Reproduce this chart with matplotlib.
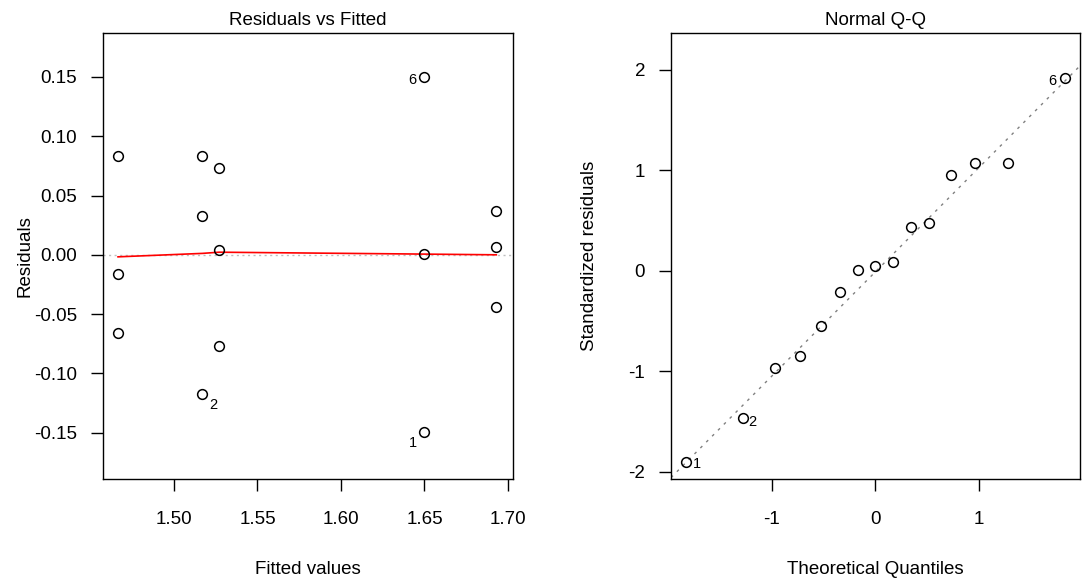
import numpy as np
import matplotlib
matplotlib.use('Agg')
import matplotlib.pyplot as plt

plt.rcParams['font.family'] = ['Liberation Sans', 'DejaVu Sans']
plt.rcParams['axes.unicode_minus'] = False

# residuals vs fitted
fitted = [1.4665, 1.4665, 1.4665,
          1.517, 1.517, 1.517,
          1.527, 1.527, 1.527,
          1.650, 1.650, 1.650,
          1.693, 1.693, 1.693]
resid = [0.083, -0.016, -0.066,
         0.083, 0.033, -0.117,
         0.073, 0.004, -0.077,
         0.150, 0.001, -0.149,
         0.037, 0.007, -0.044]
smooth_x = [1.4665, 1.517, 1.527, 1.650, 1.693]
smooth_y = [-0.0017, 0.0012, 0.0022, 0.0006, 0.0]

# normal q-q
theo_q = [-1.834, -1.282, -0.967, -0.728, -0.524, -0.341, -0.168, 0.0,
          0.168, 0.341, 0.524, 0.728, 0.967, 1.282, 1.834]
std_resid = [-1.90, -1.463, -0.968, -0.842, -0.543, -0.205, 0.014, 0.054,
             0.093, 0.435, 0.475, 0.959, 1.075, 1.075, 1.92]
qq_intercept = -0.01
qq_slope = 1.036

# labelled points: (index, dx, dy) offsets in pixels
rv_labels = {'6': (9, -12, -3), '2': (5, 11, -11), '1': (11, -12, -11)}
qq_labels = {'6': (14, -13, -3), '2': (1, 10, -4), '1': (0, 11, -2)}

fs = 13.5
px = 0.72  # pixel -> point at dpi 100

fig = plt.figure(figsize=(10.82, 5.85), dpi=100)
ax1 = fig.add_axes([103/1082, 1-479/585, 410/1082, 446/585])
ax2 = fig.add_axes([671/1082, 1-479/585, 409/1082, 446/585])

for ax in (ax1, ax2):
    for s in ax.spines.values():
        s.set_linewidth(1.0)
    ax.tick_params(length=12*px, width=1.0, labelsize=fs, direction='out')
    ax.tick_params(axis='y', pad=14*px)
    ax.tick_params(axis='x', pad=20*px)

# left panel
ax1.axhline(0, color='#bebebe', lw=1, linestyle=(0, (1.5, 2.5)), zorder=1)
ax1.plot(smooth_x, smooth_y, color='red', lw=1.2, zorder=2)
ax1.plot(fitted, resid, 'o', mfc='none', mec='black', ms=7, mew=1.1, zorder=3)
for lab, (i, dx, dy) in rv_labels.items():
    ax1.annotate(lab, (fitted[i], resid[i]), xytext=(dx*px, dy*px),
                 textcoords='offset points', ha='center', va='center', fontsize=10.5)
ax1.set_xlim(1.4575, 1.703)
ax1.set_ylim(-0.189, 0.187)
ax1.set_xticks([1.50, 1.55, 1.60, 1.65, 1.70])
ax1.set_xticklabels(['1.50', '1.55', '1.60', '1.65', '1.70'])
ax1.set_yticks([-0.15, -0.10, -0.05, 0.0, 0.05, 0.10, 0.15])
ax1.set_yticklabels(['-0.15', '-0.10', '-0.05', '0.00', '0.05', '0.10', '0.15'])
ax1.set_title('Residuals vs Fitted', fontsize=fs, pad=6)
ax1.set_xlabel('Fitted values', fontsize=fs, va='center')
ax1.set_ylabel('Residuals', fontsize=fs, va='center')
ax1.xaxis.set_label_coords(0.5, (479-569)/446)
ax1.yaxis.set_label_coords((25-103)/410, 0.5)

# right panel
ax2.axline((0, qq_intercept), slope=qq_slope, color='gray', lw=1,
           linestyle=(0, (2, 4)), zorder=1)
ax2.plot(theo_q, std_resid, 'o', mfc='none', mec='black', ms=7, mew=1.1, zorder=3)
for lab, (i, dx, dy) in qq_labels.items():
    ax2.annotate(lab, (theo_q[i], std_resid[i]), xytext=(dx*px, dy*px),
                 textcoords='offset points', ha='center', va='center', fontsize=10.5)
ax2.set_xlim(-1.975, 1.98)
ax2.set_ylim(-2.07, 2.368)
ax2.set_xticks([-1, 0, 1])
ax2.set_yticks([-2, -1, 0, 1, 2])
ax2.set_title('Normal Q-Q', fontsize=fs, pad=6)
ax2.set_xlabel('Theoretical Quantiles', fontsize=fs, va='center')
ax2.set_ylabel('Standardized residuals', fontsize=fs, va='center')
ax2.xaxis.set_label_coords(0.5, (479-569)/446)
ax2.yaxis.set_label_coords((589-671)/409, 0.5)

fig.savefig('out.png', dpi=100)
